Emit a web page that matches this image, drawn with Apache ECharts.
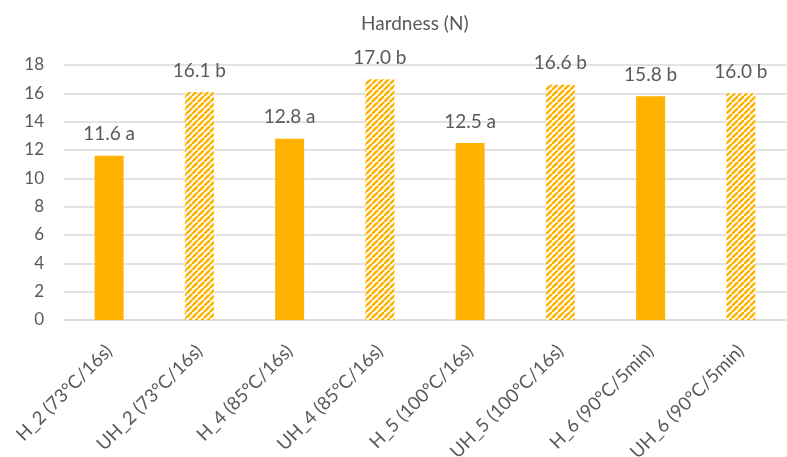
<!DOCTYPE html>
<html>
<head>
<meta charset="utf-8">
<script src="https://cdn.jsdelivr.net/npm/echarts@6/dist/echarts.min.js"></script>
<style>html,body{margin:0;padding:0;background:#fff}#c{width:787px;height:457px}</style>
</head>
<body>
<div id="c"></div>
<script>
const categories = ['H_2 (73°C/16s)','UH_2 (73°C/16s)','H_4 (85°C/16s)','UH_4 (85°C/16s)','H_5 (100°C/16s)','UH_5 (100°C/16s)','H_6 (90°C/5min)','UH_6 (90°C/5min)'];
const hardness = [11.6, 16.1, 12.8, 17.0, 12.5, 16.6, 15.8, 16.0];
const letters = ['a','b','a','b','a','b','b','b'];
const hatched = [false,true,false,true,false,true,false,true];

const GOLD = '#FFB300';
function makeHatch(){
  const s = 6;
  const cv = document.createElement('canvas');
  cv.width = s; cv.height = s;
  const ctx = cv.getContext('2d');
  ctx.fillStyle = '#fff'; ctx.fillRect(0,0,s,s);
  ctx.strokeStyle = GOLD; ctx.lineWidth = 2.4;
  ctx.beginPath();
  for (let k=-1;k<=1;k++){
    ctx.moveTo(k*s, s); ctx.lineTo(k*s + s, 0);
  }
  ctx.stroke();
  return cv;
}
const hatch = makeHatch();
const font = 'Lato, "Open Sans", sans-serif';
const chart = echarts.init(document.getElementById('c'));
chart.setOption({
  animation:false,
  title:{text:'Hardness (N)',left:356,top:9,textStyle:{fontFamily:font,fontSize:19,fontWeight:'normal',color:'#595959'}},
  grid:{left:64,right:1,top:65,bottom:137,containLabel:false,outerBoundsMode:'none'},
  xAxis:{type:'category',data:categories,
    axisLine:{lineStyle:{color:'#d9d9d9',width:1.5}},axisTick:{show:false},
    axisLabel:{rotate:45,interval:0,margin:28,fontFamily:font,fontSize:18.5,color:'#595959'}},
  yAxis:{type:'value',min:0,max:18,interval:2,
    axisLine:{show:false},axisTick:{show:false},
    splitLine:{lineStyle:{color:'#d9d9d9',width:1.5}},
    axisLabel:{margin:20,fontFamily:font,fontSize:17,color:'#595959'}},
  series:[{type:'bar',barWidth:29,
    data:hardness.map((v,i)=>({value:v,itemStyle:{color: hatched[i]?{image:hatch,repeat:'repeat'}:GOLD}})),
    label:{show:true,position:'top',distance:12,fontFamily:font,fontSize:19,color:'#595959',
      formatter:p=>hardness[p.dataIndex].toFixed(1)+' '+letters[p.dataIndex]}}]
});
</script>
</body>
</html>
